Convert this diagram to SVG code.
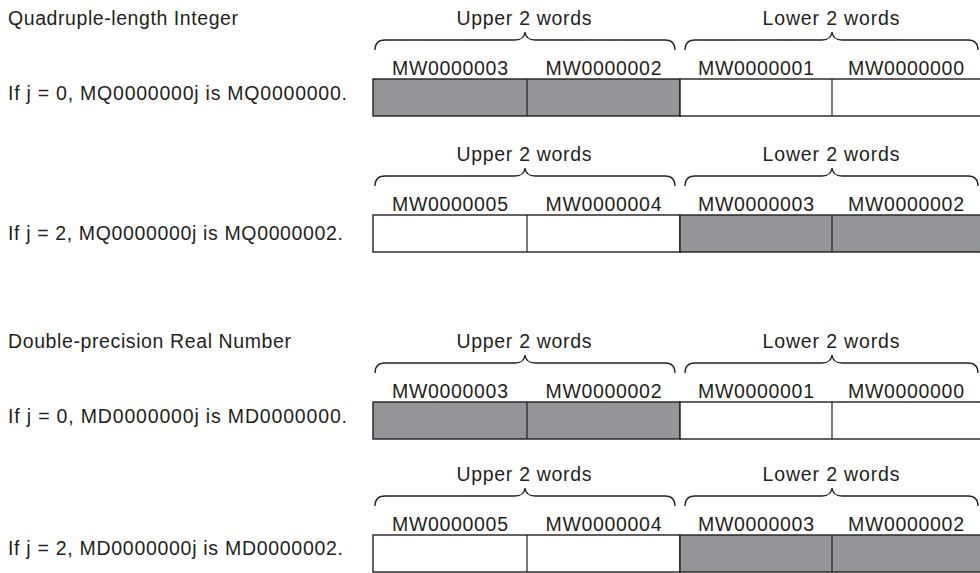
<svg xmlns="http://www.w3.org/2000/svg" width="980" height="573" viewBox="0 0 980 573">
<style>
text{font-family:"Liberation Sans",Arial,sans-serif;font-size:19.5px;fill:#231f20}
.c{text-anchor:middle}
.box{stroke:#231f20;stroke-width:1.4}
.g{fill:#939598}
.w{fill:#ffffff}
.div{stroke:#231f20;stroke-width:1.2}
.brace{fill:none;stroke:#231f20;stroke-width:1.3}
</style>
<rect width="980" height="573" fill="#ffffff"/>

<g id="title-quad"><text x="8" y="25" textLength="230" lengthAdjust="spacing">Quadruple-length Integer</text></g>
<g id="title-double"><text x="8" y="348" textLength="283" lengthAdjust="spacing">Double-precision Real Number</text></g>

<!-- Row 1: B=79 -->
<g id="row1">
<text x="8" y="100" textLength="339" lengthAdjust="spacing">If j = 0, MQ0000000j is MQ0000000.</text>
<text class="c" x="524" y="25" textLength="135" lengthAdjust="spacing">Upper 2 words</text>
<text class="c" x="831" y="25" textLength="137" lengthAdjust="spacing">Lower 2 words</text>
<path class="brace" d="M375,50 Q375,40 385,40 L515,40 Q524,40 525,32 Q526,40 535,40 L665,40 Q675,40 675,50"/>
<path class="brace" d="M685,50 Q685,40 695,40 L822,40 Q831,40 832,32 Q833,40 842,40 L968,40 Q978,40 978,50"/>
<rect class="box g" x="373" y="79" width="307" height="37"/>
<rect class="box w" x="680" y="79" width="302" height="37"/>
<line class="div" x1="527" y1="79" x2="527" y2="116"/>
<line class="div" x1="832" y1="79" x2="832" y2="116"/>
<text class="c" x="450" y="75" textLength="116" lengthAdjust="spacing">MW0000003</text>
<text class="c" x="603.5" y="75" textLength="116" lengthAdjust="spacing">MW0000002</text>
<text class="c" x="756" y="75" textLength="116" lengthAdjust="spacing">MW0000001</text>
<text class="c" x="906" y="75" textLength="116" lengthAdjust="spacing">MW0000000</text>
</g>

<!-- Row 2: B=215 -->
<g id="row2">
<text x="8" y="240" textLength="335" lengthAdjust="spacing">If j = 2, MQ0000000j is MQ0000002.</text>
<text class="c" x="524" y="161" textLength="135" lengthAdjust="spacing">Upper 2 words</text>
<text class="c" x="831" y="161" textLength="137" lengthAdjust="spacing">Lower 2 words</text>
<path class="brace" d="M375,186 Q375,176 385,176 L515,176 Q524,176 525,168 Q526,176 535,176 L665,176 Q675,176 675,186"/>
<path class="brace" d="M685,186 Q685,176 695,176 L822,176 Q831,176 832,168 Q833,176 842,176 L968,176 Q978,176 978,186"/>
<rect class="box w" x="373" y="215" width="307" height="37"/>
<rect class="box g" x="680" y="215" width="302" height="37"/>
<line class="div" x1="527" y1="215" x2="527" y2="252"/>
<line class="div" x1="832" y1="215" x2="832" y2="252"/>
<text class="c" x="450" y="211" textLength="116" lengthAdjust="spacing">MW0000005</text>
<text class="c" x="603.5" y="211" textLength="116" lengthAdjust="spacing">MW0000004</text>
<text class="c" x="756" y="211" textLength="116" lengthAdjust="spacing">MW0000003</text>
<text class="c" x="906" y="211" textLength="116" lengthAdjust="spacing">MW0000002</text>
</g>

<!-- Row 3: B=402 -->
<g id="row3">
<text x="8" y="423" textLength="339" lengthAdjust="spacing">If j = 0, MD0000000j is MD0000000.</text>
<text class="c" x="524" y="348" textLength="135" lengthAdjust="spacing">Upper 2 words</text>
<text class="c" x="831" y="348" textLength="137" lengthAdjust="spacing">Lower 2 words</text>
<path class="brace" d="M375,373 Q375,363 385,363 L515,363 Q524,363 525,355 Q526,363 535,363 L665,363 Q675,363 675,373"/>
<path class="brace" d="M685,373 Q685,363 695,363 L822,363 Q831,363 832,355 Q833,363 842,363 L968,363 Q978,363 978,373"/>
<rect class="box g" x="373" y="402" width="307" height="37"/>
<rect class="box w" x="680" y="402" width="302" height="37"/>
<line class="div" x1="527" y1="402" x2="527" y2="439"/>
<line class="div" x1="832" y1="402" x2="832" y2="439"/>
<text class="c" x="450" y="398" textLength="116" lengthAdjust="spacing">MW0000003</text>
<text class="c" x="603.5" y="398" textLength="116" lengthAdjust="spacing">MW0000002</text>
<text class="c" x="756" y="398" textLength="116" lengthAdjust="spacing">MW0000001</text>
<text class="c" x="906" y="398" textLength="116" lengthAdjust="spacing">MW0000000</text>
</g>

<!-- Row 4: B=535 -->
<g id="row4">
<text x="8" y="555" textLength="335" lengthAdjust="spacing">If j = 2, MD0000000j is MD0000002.</text>
<text class="c" x="524" y="481" textLength="135" lengthAdjust="spacing">Upper 2 words</text>
<text class="c" x="831" y="481" textLength="137" lengthAdjust="spacing">Lower 2 words</text>
<path class="brace" d="M375,506 Q375,496 385,496 L515,496 Q524,496 525,488 Q526,496 535,496 L665,496 Q675,496 675,506"/>
<path class="brace" d="M685,506 Q685,496 695,496 L822,496 Q831,496 832,488 Q833,496 842,496 L968,496 Q978,496 978,506"/>
<rect class="box w" x="373" y="535" width="307" height="37"/>
<rect class="box g" x="680" y="535" width="302" height="37"/>
<line class="div" x1="527" y1="535" x2="527" y2="572"/>
<line class="div" x1="832" y1="535" x2="832" y2="572"/>
<text class="c" x="450" y="531" textLength="116" lengthAdjust="spacing">MW0000005</text>
<text class="c" x="603.5" y="531" textLength="116" lengthAdjust="spacing">MW0000004</text>
<text class="c" x="756" y="531" textLength="116" lengthAdjust="spacing">MW0000003</text>
<text class="c" x="906" y="531" textLength="116" lengthAdjust="spacing">MW0000002</text>
</g>
</svg>
